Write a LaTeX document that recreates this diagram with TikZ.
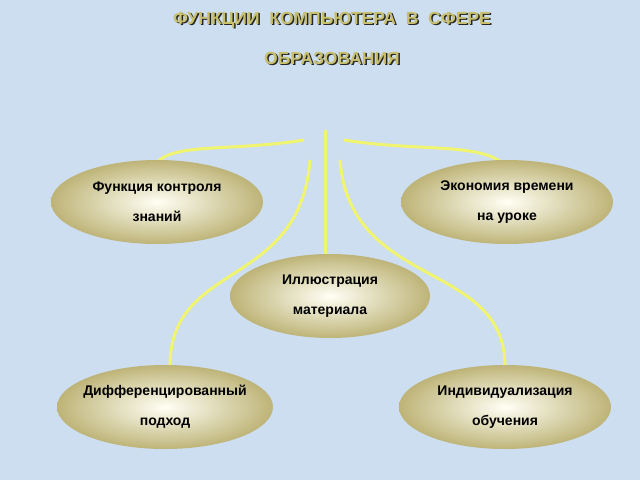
\documentclass[tikz,border=0pt]{standalone}
\usepackage{fontspec}
\setmainfont{Liberation Sans}
\definecolor{bgblue}{RGB}{204,222,240}
\definecolor{olive}{RGB}{190,180,120}
\definecolor{lineyel}{RGB}{240,244,110}
\definecolor{titlecol}{RGB}{200,192,110}
\tikzset{
  oval/.style = {ellipse, minimum width=212pt, minimum height=84pt,
                 inner color=white!96!yellow, outer color=olive,
                 align=center, font=\bfseries\fontsize{14}{30}\selectfont},
  link/.style = {draw=lineyel, line width=3pt},
  ttl/.style  = {font=\bfseries\fontsize{17.5}{40}\selectfont, align=center}
}
\usetikzlibrary{shapes.geometric}
\begin{document}
\begin{tikzpicture}[x=1pt,y=-1pt]
  \fill[bgblue] (0,0) rectangle (640,480);
  \useasboundingbox (0,0) rectangle (640,480);

  % title with shadow
  \node[ttl,text=black!85] (titleshadow) at (333.5,39.5) {ФУНКЦИИ\ \ КОМПЬЮТЕРА\ \ В\ \ СФЕРЕ\\ОБРАЗОВАНИЯ};
  \node[ttl,text=titlecol] (title) at (332,38) {ФУНКЦИИ\ \ КОМПЬЮТЕРА\ \ В\ \ СФЕРЕ\\ОБРАЗОВАНИЯ};

  % connectors
  \coordinate (hubl) at (304,140);
  \coordinate (hubr) at (344,140);
  \coordinate (hubc) at (325,130);
  \coordinate (downl) at (310,160);
  \coordinate (downr) at (340,160);
  \draw[link] (hubl) .. controls (230,152) and (170,142) .. (155,165);
  \draw[link] (hubr) .. controls (420,152) and (480,142) .. (505,165);
  \draw[link] (hubc) -- (325,254);
  \draw[link] (downl) .. controls (300,290) and (170,260) .. (170,366);
  \draw[link] (downr) .. controls (350,290) and (505,260) .. (505,366);

  % nodes
  \node[oval] (control) at (157,202) {Функция контроля\\знаний};
  \node[oval] (time) at (507,202) {Экономия времени\\на уроке};
  \node[oval,minimum width=200pt] (illus) at (330,296) {Иллюстрация\\материала};
  \node[oval,minimum width=216pt,inner xsep=-22pt] (diff) at (165,407) {Дифференцированный\\подход};
  \node[oval] (indiv) at (505,407) {Индивидуализация\\обучения};
\end{tikzpicture}
\end{document}
